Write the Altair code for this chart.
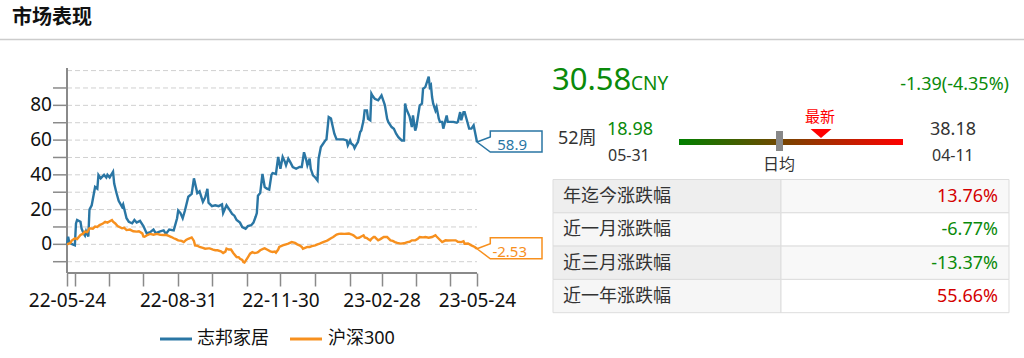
import altair as alt
import pandas as pd

FONT = "'Noto Sans', 'Noto Sans CJK SC', sans-serif"

# ---------------- data ----------------
START = "2022-05-24"
END = "2023-05-24"
series_names = ["志邦家居", "沪深300"]
series_colors = ["#2a76a4", "#f7901e"]
last_labels = ["58.9", "-2.53"]

# (days since start, % change)
zhibang = [(0,0),(1,4.4),(2,1),(5,0),(7,-0.5),(8,12),(9,14),(12,13),(13,9),(15,6),
 (16,5),(17,7.5),(19,4.5),(20,20),(22,22.5),(25,33),(27,32),(28,39.9),(30,38),(33,40),
 (35,38.5),(36,40),(38,38.5),(41,41.8),(42,35),(44,29.7),(46,25),(49,21.6),(50,23),(53,15),
 (55,13),(58,12.1),(60,14),(62,12.5),(65,13.5),(68,10.5),(71,6.3),(74,7),(77,8.5),(79,6.5),
 (83,7.5),(86,8),(88,6),(91,8.5),(95,8),(98,15),(99,19.5),(101,18),(103,15),(105,19.5),
 (108,27.4),(111,29),(113,38),(116,29.5),(118,30.5),(121,24.5),(123,27),(125,32),(126,24),(129,22),
 (132,22.5),(135,22),(138,23),(139,18),(142,22.5),(144,20.5),(147,17.5),(149,16.5),(151,14),(154,12.5),
 (156,9.9),(159,9),(161,10.5),(164,11),(166,12.5),(168,16),(169,18),(170,28),(172,29.5),(174,40.5),
 (176,33),(178,32),(180,31.5),(182,40),(183,41),(186,40.5),(188,50.3),(189,47),(190,43.5),(192,50.3),
 (194,47.5),(195,45.5),(197,49.3),(199,47),(201,44.5),(204,43.5),(207,44.5),(209,44.5),(211,53),(213,48.5),
 (214,45.5),(216,49.3),(217,43.5),(219,39.7),(221,38.5),(223,36.8),(224,49.3),(226,56),(228,57.9),(230,59.8),
 (231,60.5),(233,73.3),(235,72.5),(236,69.4),(238,63.7),(240,60.4),(243,60.4),(246,60.4),(249,59.8),(250,57),
 (252,59.8),(253,58),(255,57),(256,55.4),(258,57.9),(259,58.9),(261,64.6),(262,65.5),(264,71.4),(265,77.1),
 (267,77.1),(268,72.3),(270,71.4),(271,86.7),(272,85.5),(274,83.8),(277,82.9),(280,85.7),(282,82),(283,80),
 (285,72.3),(286,70.5),(289,67.5),(291,66.5),(293,63.7),(295,61.7),(298,59.8),(300,59.8),(301,81),(302,78.1),
 (305,73.5),(307,67.5),(308,74.2),(310,65.5),(311,67.5),(314,80),(316,81),(317,89.6),(319,90.5),(322,96.5),
 (323,90.5),(324,91.5),(325,84.8),(326,81),(328,77.1),(329,79),(331,72.3),(332,70.5),(334,70.5),(335,66.6),
 (338,74.2),(339,70.5),(341,70.5),(344,70.5),(347,70),(348,70.5),(350,76.1),(351,71.4),(353,76.1),(354,76.1),
 (356,71.4),(358,66.6),(360,66.6),(362,68.5),(365,58.9)]

hs300 = [(0,0),(3,0.8),(4,2),(7,3.5),(9,3),(12,5.4),(14,6),(16,7.3),(18,7),(20,9.2),
 (23,9),(25,10.2),(27,10),(29,11.1),(32,12),(34,13),(36,12.5),(40,14),(41,13),(43,12),
 (45,10.5),(49,9.2),(51,9.5),(53,8.2),(56,8.5),(59,7.5),(62,7.3),(64,7.5),(67,6.3),(68,4.5),
 (69,4.4),(72,5.5),(74,6),(77,5.5),(80,6),(83,5.5),(86,5.4),(88,5.5),(90,5),(93,4.2),
 (95,3.5),(97,3),(99,2.3),(102,2),(104,1.3),(106,2.5),(108,3.2),(111,4),(113,2),(114,-0.6),
 (116,-0.8),(118,-1.5),(121,-2),(123,-2.5),(126,-2.3),(127,-2.3),(130,-3),(132,-3.4),(134,-3.4),(137,-4),
 (139,-5),(141,-4.2),(142,-2.5),(144,-3),(146,-3),(148,-5),(151,-7.3),(153,-7.5),(154,-8.3),(156,-9),
 (157,-10.2),(158,-10.5),(160,-8.5),(161,-7.5),(163,-5.4),(165,-4.5),(167,-5),(169,-4.8),(170,-4.5),(172,-3.4),
 (175,-2.5),(176,-2.3),(178,-3),(181,-4),(183,-4.4),(185,-4.2),(186,-4.8),(188,-3),(189,-1.5),(192,-0.6),
 (195,0),(197,0.4),(200,1.3),(203,0.8),(205,0),(207,-0.6),(209,-1.5),(210,-2.5),(212,-2),(214,-1.5),
 (216,-1.5),(218,-1),(221,-0.6),(223,0),(225,0.4),(228,1.3),(231,2),(232,2.3),(235,3.5),(237,4.2),
 (240,5.6),(242,6),(244,6.1),(247,6),(249,6.1),(251,6.2),(253,5.8),(255,5.2),(258,3.6),(260,3.8),
 (262,4.5),(264,5.2),(265,4),(267,3.6),(268,3),(270,2.3),(271,3.2),(273,4.2),(274,4.2),(277,2.3),
 (279,3),(282,4.2),(285,4.2),(288,2.3),(290,2),(292,1.3),(294,0.8),(297,0.4),(300,0.6),(303,1.3),
 (305,1.5),(307,2.3),(310,2.3),(312,3),(314,4.2),(317,4),(319,4.2),(322,3.8),(325,4.2),(328,5.2),
 (329,4.5),(331,3.2),(334,1.3),(337,2.3),(339,2.2),(343,2.3),(346,2.3),(348,1.5),(351,1.3),(353,1.8),
 (354,0.4),(357,0.5),(360,-0.6),(363,-1.5),(365,-2.53)]

y_tick_values = list(range(-10, 91, 10))
y_label_values = [0, 20, 40, 60, 80]
grid_values = list(range(-10, 101, 10))
x_tick_dates = ["2022-05-24", "2022-05-31", "2022-06-30", "2022-07-31", "2022-08-31", "2022-09-30",
                "2022-10-31", "2022-11-30", "2022-12-31", "2023-01-31", "2023-02-28", "2023-03-31",
                "2023-04-30", "2023-05-24"]
x_label_texts = ["22-05-24", "22-08-31", "22-11-30", "23-02-28", "23-05-24"]

price = "30.58"
currency = "CNY"
change_text = "-1.39(-4.35%)"
low_52 = ("18.98", "05-31")
high_52 = ("38.18", "04-11")
table_labels = ["年迄今涨跌幅", "近一月涨跌幅", "近三月涨跌幅", "近一年涨跌幅"]
table_values = ["13.76%", "-6.77%", "-13.37%", "55.66%"]

# ---------------- styling ----------------
GREEN = "#0a8a0a"
RED = "#d40000"
DARK = "#333333"
AXIS = "#8a8a8a"

start = pd.Timestamp(START)
end = pd.Timestamp(END)


def to_df(pairs, name):
    return pd.DataFrame({
        "date": [start + pd.Timedelta(days=d) for d, _ in pairs],
        "value": [v for _, v in pairs],
        "series": name,
    })


lines_df = pd.concat([to_df(zhibang, series_names[0]), to_df(hs300, series_names[1])], ignore_index=True)
last_df = pd.DataFrame({"date": [end, end], "value": [58.9, -2.53],
                        "series": series_names, "label": last_labels})
grid_df = pd.DataFrame({
    "date": [start, end] * len(grid_values),
    "value": [g for g in grid_values for _ in (0, 1)],
    "level": [str(g) for g in grid_values for _ in (0, 1)],
})
ytick_df = pd.DataFrame({"value": y_tick_values})
ylab_df = pd.DataFrame({"value": y_label_values})
ydomain_df = pd.DataFrame({"date": [start, start], "value": [-16.5, 101.5]})
xdomain_df = pd.DataFrame({"date": [start, end], "value": [-16.5, -16.5]})


def dt(s):
    t = pd.Timestamp(s)
    return alt.DateTime(year=t.year, month=t.month, date=t.day)


x_scale = alt.Scale(domain=[dt(START), dt(END)], range=[67, 477], nice=False)
y_scale = alt.Scale(domain=[-16.5, 101.5], range=[273, 68], nice=False, zero=False)
color_scale = alt.Scale(domain=series_names, range=series_colors)

label_list = "[" + ",".join("'%s'" % s for s in x_label_texts) + "]"
x_axis = alt.Axis(
    values=[dt(s) for s in x_tick_dates], format="%y-%m-%d", title=None, grid=False,
    orient="bottom", offset=-85, tickSize=13, tickColor=AXIS, tickWidth=1.5,
    domain=False, labelFontSize=19, labelColor="#111", labelFont=FONT,
    labelPadding=5, labelFlush=False, labelOverlap=False, labelBound=False,
    labelExpr="indexof(%s, datum.label) >= 0 ? datum.label : ''" % label_list,
)

X = lambda f="date:T": alt.X(f, scale=x_scale, axis=x_axis)
Y = lambda f="value:Q": alt.Y(f, scale=y_scale, axis=None)

one = pd.DataFrame({"k": [0]})


def txt(text, x, y, size, color=DARK, align="left", baseline="middle", weight="normal"):
    return alt.Chart(one).mark_text(
        text=text, align=align, baseline=baseline, fontSize=size, color=color,
        font=FONT, fontWeight=weight,
    ).encode(x=alt.value(x), y=alt.value(y))


def rect(x, y, x2, y2, fill, stroke=None):
    kw = dict(fill=fill)
    if stroke:
        kw.update(stroke=stroke, strokeWidth=1)
    return alt.Chart(one).mark_rect(**kw).encode(
        x=alt.value(x), x2=alt.value(x2), y=alt.value(y), y2=alt.value(y2))


def hline(x, x2, y, color, width):
    return alt.Chart(one).mark_rule(color=color, strokeWidth=width).encode(
        x=alt.value(x), x2=alt.value(x2), y=alt.value(y))


layers = []

# header
layers.append(txt("市场表现", 12, 18, 20, color="#111", weight="bold"))
layers.append(hline(0, 1024, 39.5, "#cccccc", 1.5))

# gridlines
layers.append(alt.Chart(grid_df).mark_line(color="#d0d0d0", strokeDash=[5, 3], strokeWidth=1).encode(
    x=X(), y=Y(), detail="level:N"))

# y axis (domain, ticks, labels) and x domain line
layers.append(alt.Chart(ydomain_df).mark_line(color=AXIS, strokeWidth=2).encode(x=X(), y=Y()))
layers.append(alt.Chart(xdomain_df).mark_line(color=AXIS, strokeWidth=2).encode(x=X(), y=Y()))
layers.append(alt.Chart(ytick_df).mark_tick(
    orient="horizontal", size=14, thickness=1.5, color=AXIS, opacity=1).encode(
    y=Y(), x=alt.value(60)))
layers.append(alt.Chart(ylab_df).mark_text(
    align="right", baseline="middle", fontSize=19, color="#111", font=FONT).encode(
    y=Y(), x=alt.value(52), text="value:Q"))

# lines
layers.append(alt.Chart(lines_df).mark_line(strokeWidth=2.4).encode(
    x=X(), y=Y(),
    color=alt.Color("series:N", scale=color_scale, legend=None),
    detail="series:N",
))

# end callouts
CALLOUT = "M0,0 L13.3,-5 L13.3,-11 L65,-11 L65,10 L13.3,10 Z"
layers.append(alt.Chart(last_df).mark_point(
    shape=CALLOUT, size=4, filled=False, strokeWidth=1.5, opacity=1).encode(
    x=X(), y=Y(),
    color=alt.Color("series:N", scale=color_scale, legend=None),
))
layers.append(alt.Chart(last_df).mark_text(
    align="right", baseline="middle", dx=50, dy=3, fontSize=15, font=FONT).encode(
    x=X(), y=Y(),
    text="label:N",
    color=alt.Color("series:N", scale=color_scale, legend=None),
))

# legend
layers.append(hline(160, 192, 339, series_colors[0], 3))
layers.append(txt(series_names[0], 197, 339, 18, color="#111"))
layers.append(hline(290, 322, 339, series_colors[1], 3))
layers.append(txt(series_names[1], 328, 339, 18, color="#111"))

# price block
layers.append(txt(price, 552, 90, 31, color=GREEN, baseline="alphabetic"))
layers.append(txt(currency, 631, 90, 19, color=GREEN, baseline="alphabetic"))
layers.append(txt(change_text, 1009, 90, 18, color=GREEN, align="right", baseline="alphabetic"))

# 52-week range
layers.append(txt("52周", 558, 138.5, 18))
layers.append(txt(low_52[0], 607, 135, 18, color=GREEN, baseline="alphabetic"))
layers.append(txt(low_52[1], 608, 161, 16, baseline="alphabetic"))
layers.append(txt(high_52[0], 930, 135, 18, baseline="alphabetic"))
layers.append(txt(high_52[1], 932, 161, 16, baseline="alphabetic"))
grad = alt.LinearGradient(gradient="linear", x1=0, x2=1, y1=0, y2=0, stops=[
    alt.GradientStop(color="#008000", offset=0), alt.GradientStop(color="#ff0000", offset=1)])
layers.append(alt.Chart(one).mark_rect(fill=grad).encode(
    x=alt.value(679), x2=alt.value(903), y=alt.value(139), y2=alt.value(145)))
layers.append(rect(776, 131, 783, 151, "#888888"))
layers.append(txt("日均", 779, 165, 16, align="center"))
layers.append(txt("最新", 820, 116.5, 15, color="#ff0000", align="center"))
layers.append(alt.Chart(one).mark_point(
    shape="M-10.5,-4.5 L10.5,-4.5 L0,4.5 Z", size=4, filled=True, color="#ff0000", opacity=1).encode(
    x=alt.value(821), y=alt.value(133.5)))

# table
row_top = 179.5
row_h = 33.3
for i, (lab, val) in enumerate(zip(table_labels, table_values)):
    y0 = row_top + i * row_h
    y1 = y0 + row_h
    odd = i % 2 == 0
    layers.append(rect(553, y0, 781, y1, "#eeeeee" if odd else "#f6f6f6", "#dddddd"))
    layers.append(rect(781, y0, 1009, y1, "#f8f8f8" if odd else "#ffffff", "#dddddd"))
    layers.append(txt(lab, 563, (y0 + y1) / 2 + 1, 18))
    layers.append(txt(val, 998, (y0 + y1) / 2 + 1, 18,
                      color=GREEN if val.startswith("-") else RED, align="right"))

chart = alt.layer(*layers).properties(
    width=1024, height=358, padding=0,
    autosize=alt.AutoSizeParams(type="none"),
).configure_view(stroke=None)

chart.save("out.html", embed_options={"renderer": "svg", "actions": False})
